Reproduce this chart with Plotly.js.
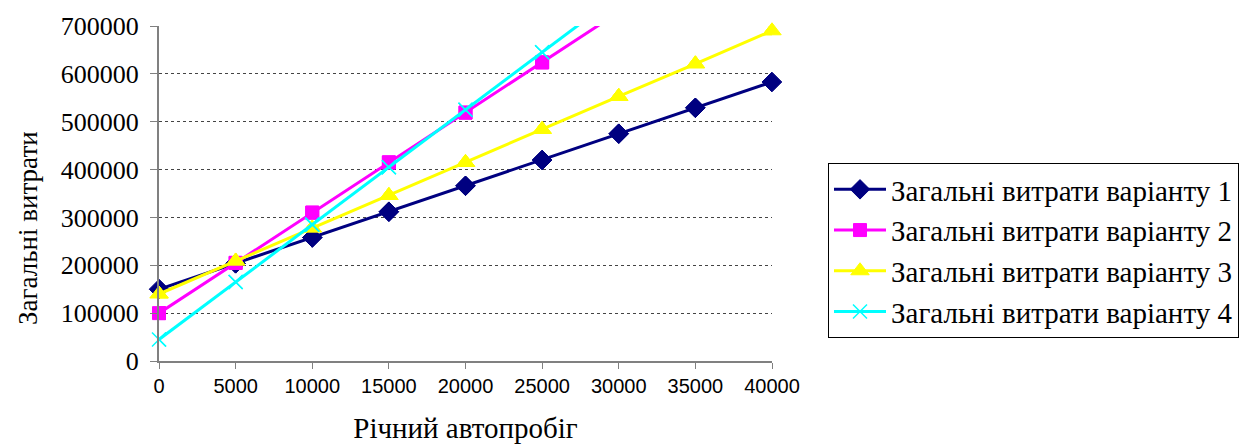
<!DOCTYPE html>
<html>
<head>
<meta charset="utf-8">
<script src="https://cdn.plot.ly/plotly-3.0.1.min.js"></script>
<style>html,body{margin:0;padding:0;background:#fff}#chart{width:1240px;height:446px}</style>
</head>
<body>
<div id="chart"></div>
<script>
const mileage = [0, 5000, 10000, 15000, 20000, 25000, 30000, 35000, 40000];
const variant1 = [150000, 204000, 258000, 312000, 366000, 420000, 475000, 529000, 583000];
const variant2 = [100000, 205000, 310000, 415000, 519000, 624000, 729000, 833000, 938000];
const variant3 = [140000, 209000, 278000, 346000, 415000, 484000, 553000, 621000, 690000];
const variant4 = [45000, 165000, 285000, 405000, 525000, 645000, 765000, 885000, 1005000];
const seriesNames = ['Загальні витрати варіанту 1', 'Загальні витрати варіанту 2', 'Загальні витрати варіанту 3', 'Загальні витрати варіанту 4'];
const xTitle = 'Річний автопробіг';
const yTitle = 'Загальні витрати';

const YMAX = 700000;
const SERIF = 'Liberation Serif, Times New Roman, serif';
const SANS = 'Liberation Sans, Arial, sans-serif';
const styles = [
  {color: '#000080', symbol: 'diamond', size: 15, lw: 1},
  {color: '#FF00FF', symbol: 'square', size: 13, lw: 1},
  {color: '#FFFF00', symbol: 'triangle-up', size: 16, lw: 1},
  {color: '#00FFFF', symbol: 'x-thin-open', size: 14, lw: 1.5}
];
const allSeries = [variant1, variant2, variant3, variant4];
const data = [];
allSeries.forEach((ys, i) => {
  const mk = {
    color: styles[i].color, symbol: styles[i].symbol, opacity: 1, size: styles[i].size,
    line: {color: styles[i].color, width: styles[i].lw}
  };
  // full line (clipped to plot area) with legend entry
  data.push({
    x: mileage, y: ys, name: seriesNames[i], type: 'scatter', mode: 'lines+markers',
    cliponaxis: true, legendgroup: 'g' + i,
    line: {color: styles[i].color, width: 3}, marker: mk
  });
  // in-range markers drawn unclipped so edge markers are whole
  const keep = ys.map(v => v <= YMAX);
  data.push({
    x: mileage.filter((_, k) => keep[k]), y: ys.filter((_, k) => keep[k]),
    name: seriesNames[i], type: 'scatter', mode: 'markers',
    cliponaxis: false, showlegend: false, legendgroup: 'g' + i,
    marker: mk
  });
});

const layout = {
  width: 1240, height: 446,
  margin: {l: 159, r: 468, t: 26, b: 85, autoexpand: false},
  paper_bgcolor: '#fff', plot_bgcolor: '#fff',
  showlegend: true,
  legend: {
    font: {family: SERIF, size: 29, color: '#000'},
    bordercolor: '#000', borderwidth: 1, bgcolor: '#fff',
    itemwidth: 52, tracegroupgap: 0,
    xanchor: 'left', yanchor: 'top'
  },
  xaxis: {
    range: [0, 40000], tickvals: mileage, ticktext: mileage.map(String),
    showgrid: false, zeroline: false,
    showline: true, linecolor: '#808080', linewidth: 2,
    ticks: 'outside', ticklen: 6, tickcolor: '#808080', tickwidth: 1,
    tickfont: {family: SANS, size: 20, color: '#000'},
    title: {text: xTitle, font: {family: SERIF, size: 29, color: '#000'}, standoff: 22},
    automargin: false
  },
  yaxis: {
    range: [0, YMAX], dtick: 100000, tickformat: 'd',
    showgrid: true, gridcolor: '#444', griddash: 'dot', gridwidth: 1,
    zeroline: false,
    showline: true, linecolor: '#808080', linewidth: 2,
    ticks: 'outside', ticklen: 7, tickcolor: '#808080', tickwidth: 1,
    ticklabelstandoff: 6,
    tickfont: {family: SERIF, size: 26, color: '#000'},
    automargin: false
  },
  annotations: [{
    text: yTitle, textangle: -90, showarrow: false,
    xref: 'paper', yref: 'paper',
    x: (28 - 159) / 613, y: (361 - 228) / 335,
    xanchor: 'center', yanchor: 'middle',
    font: {family: SERIF, size: 27, color: '#000'}
  }]
};
layout.legend.x = (828 - 159) / (1240 - 159 - 468);
layout.legend.y = 1 - (163 - 26) / (446 - 26 - 85);
Plotly.newPlot('chart', data, layout, {displayModeBar: false, staticPlot: true});
</script>
</body>
</html>
